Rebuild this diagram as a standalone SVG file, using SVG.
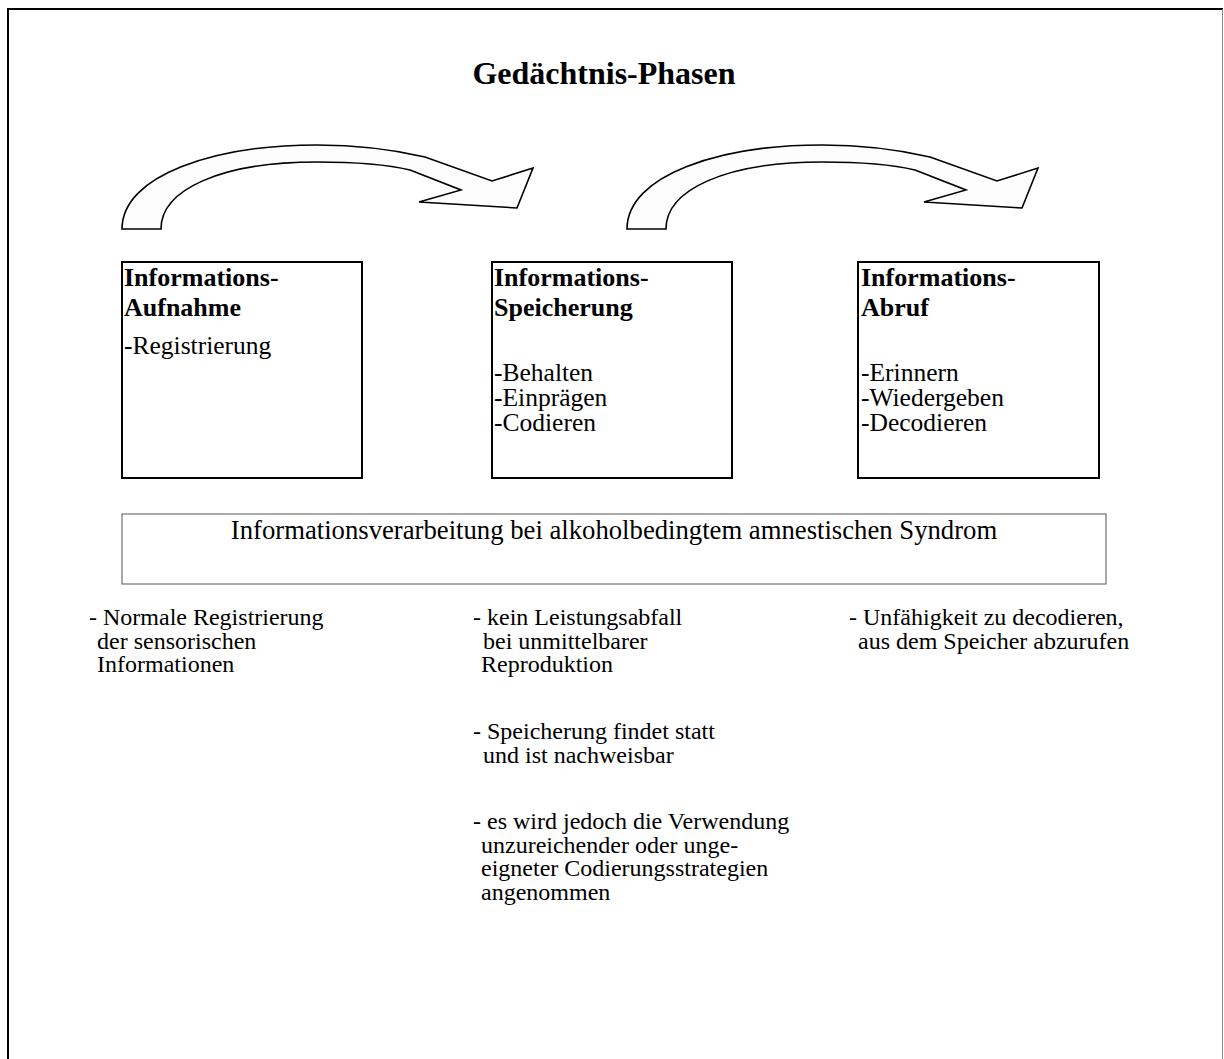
<svg xmlns="http://www.w3.org/2000/svg" width="1224" height="1059" viewBox="0 0 1224 1059">
<defs>
<style>
.t{font-family:"Liberation Serif","Times New Roman",serif;font-size:24px;fill:#000}
.r{font-family:"Liberation Serif","Times New Roman",serif;font-size:25.5px;fill:#000}
.b{font-family:"Liberation Serif","Times New Roman",serif;font-weight:bold;font-size:26px;fill:#000}
.box{fill:#fff;stroke:#000;stroke-width:2}
.arrow{fill:#fdfdfd;stroke:#000;stroke-width:1.6;stroke-linejoin:miter}
</style>
<path id="curve" class="arrow" d="M122,229 C122,175 215,145 317,145 C360,145 395,150 425,157 L492,181 L533,168 L517,208 L419,202 L461,190 L410,170 C385,164 350,162 317,162 C220,162 161,190 161,229 Z"/>
</defs>
<rect width="1224" height="1059" fill="#fff"/>
<g id="frame">
<line x1="8" y1="9" x2="1223" y2="9" stroke="#000" stroke-width="2"/>
<line x1="8" y1="8" x2="8" y2="1059" stroke="#000" stroke-width="2"/>
<line x1="1222.5" y1="9" x2="1222.5" y2="1059" stroke="#888" stroke-width="1"/>
</g>
<g id="title"><text x="604" y="84" text-anchor="middle" class="b" style="font-size:32px">Gedächtnis-Phasen</text></g>
<g id="connectors">
<use href="#curve"/>
<use href="#curve" transform="translate(505,0)"/>
</g>
<g id="node-aufnahme">
<rect class="box" x="122" y="262" width="240" height="216"/>
<text class="b" x="124" y="286">Informations-</text>
<text class="b" x="124" y="316">Aufnahme</text>
<text class="r" x="124" y="354">-Registrierung</text>
</g>
<g id="node-speicherung">
<rect class="box" x="492" y="262" width="240" height="216"/>
<text class="b" x="494" y="286">Informations-</text>
<text class="b" x="494" y="316">Speicherung</text>
<text class="r" x="494" y="381">-Behalten</text>
<text class="r" x="494" y="406">-Einprägen</text>
<text class="r" x="494" y="431">-Codieren</text>
</g>
<g id="node-abruf">
<rect class="box" x="858" y="262" width="241" height="216"/>
<text class="b" x="861" y="286">Informations-</text>
<text class="b" x="861" y="316">Abruf</text>
<text class="r" x="861" y="381">-Erinnern</text>
<text class="r" x="861" y="406">-Wiedergeben</text>
<text class="r" x="861" y="431">-Decodieren</text>
</g>
<g id="node-verarbeitung">
<rect x="122" y="514" width="984" height="70" fill="#fff" stroke="#555" stroke-width="1"/>
<text class="t" x="614" y="539" text-anchor="middle" style="font-size:26.7px">Informationsverarbeitung bei alkoholbedingtem amnestischen Syndrom</text>
</g>
<g id="notes-aufnahme">
<text class="t" x="89" y="625">- Normale Registrierung</text>
<text class="t" x="97" y="649">der sensorischen</text>
<text class="t" x="97" y="672">Informationen</text>
</g>
<g id="notes-speicherung">
<text class="t" x="473" y="625">- kein Leistungsabfall</text>
<text class="t" x="483" y="649">bei unmittelbarer</text>
<text class="t" x="481" y="672">Reproduktion</text>
<text class="t" x="473" y="739">- Speicherung findet statt</text>
<text class="t" x="483" y="763">und ist nachweisbar</text>
<text class="t" x="473" y="829">- es wird jedoch die Verwendung</text>
<text class="t" x="481" y="853">unzureichender oder unge-</text>
<text class="t" x="481" y="876">eigneter Codierungsstrategien</text>
<text class="t" x="481" y="900">angenommen</text>
</g>
<g id="notes-abruf">
<text class="t" x="849" y="625">- Unfähigkeit zu decodieren,</text>
<text class="t" x="858" y="649">aus dem Speicher abzurufen</text>
</g>
</svg>
